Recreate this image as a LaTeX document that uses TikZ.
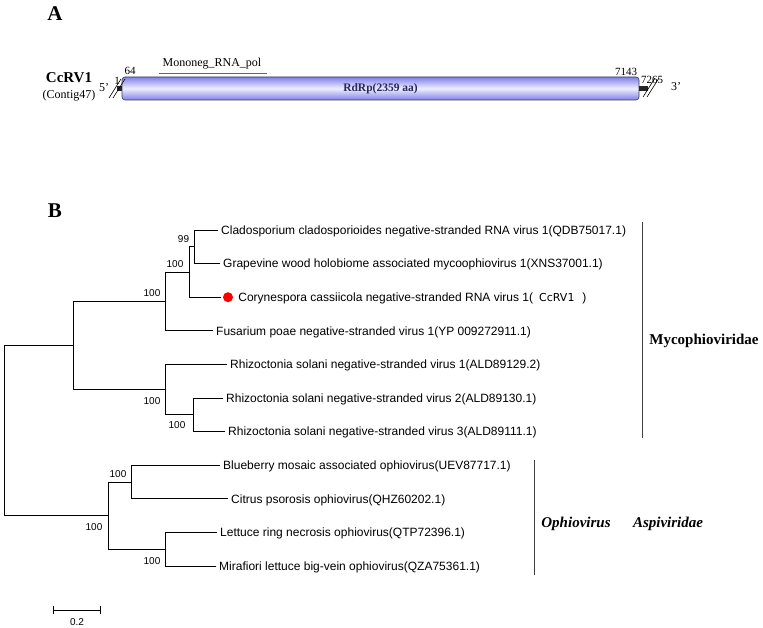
\documentclass[tikz,border=0pt]{standalone}
\usepackage{fontspec}
\setmainfont{Liberation Serif}
\newfontfamily\arial{Liberation Sans}
\newfontfamily\dejavu{DejaVu Sans}
\begin{document}
\begin{tikzpicture}[x=1pt,y=-1pt,
  leaf/.style={anchor=west,inner xsep=3pt,inner ysep=0pt,text height=8.6pt,text depth=0pt,font=\arial\fontsize{12}{14}\selectfont},
  boot/.style={inner sep=0pt,font=\arial\fontsize{10}{12}\selectfont},
  num/.style={inner sep=0pt,font=\fontsize{11}{13}\selectfont},
  br/.style={line width=0.8pt,line cap=rect},
  clade/.style={inner sep=0pt,font=\fontsize{15}{17}\selectfont\bfseries},
  panel/.style={inner sep=0pt,font=\fontsize{21}{24}\selectfont\bfseries}]
\useasboundingbox (0,0) rectangle (763,628);
\definecolor{barblue}{RGB}{128,128,232}
\definecolor{barmid}{RGB}{238,238,255}
% ---------- Panel A ----------
\node[panel] (pA) at (55,14) {A};
\node[inner sep=0pt,font=\fontsize{15}{17}\selectfont\bfseries] (name) at (69,78) {CcRV1};
\node[inner sep=0pt,font=\fontsize{12}{14}\selectfont] (contig) at (69,96) {(Contig47)};
\node[num,font=\fontsize{12}{14}\selectfont] (five) at (104,88) {5'};
\node[num,font=\fontsize{12}{14}\selectfont] (three) at (676,87) {3'};
\node[rounded corners=3pt,draw={rgb,255:red,60;green,60;blue,80},line width=0.6pt,
  top color=barblue,bottom color=barblue,middle color=barmid,
  minimum width=517pt,minimum height=23pt,inner sep=0pt,
  font=\fontsize{11.5}{13}\selectfont\bfseries,text={rgb,255:red,40;green,40;blue,90}] (bar) at (380.5,88.5) {RdRp(2359 aa)};
\fill[black!85] (117,86) rectangle (bar.west |- 0,91);
\fill[black!85] (bar.east |- 0,86) rectangle (648,91);
\draw[line width=0.6pt] (109,98) -- (121,79);
\draw[line width=0.6pt] (113,98) -- (125,79);
\draw[line width=0.6pt] (643,97) -- (655,78);
\draw[line width=0.6pt] (647,97) -- (659,78);
\node[num] (p1) at (117,81) {1};
\node[num] (p64) at (130,71) {64};
\node[num] (p7143) at (626,72) {7143};
\node[num] (p7265) at (652,80) {7265};
\node[inner sep=0pt,font=\fontsize{12}{14}\selectfont] (dom) at (212,64) {Mononeg\_RNA\_pol};
\coordinate (d1) at (159,73);
\coordinate (d2) at (267,73);
\draw[black!60,line width=0.7pt] (d1) -- (d2);
% ---------- Panel B ----------
\node[panel] (pB) at (55,211) {B};
\coordinate (root) at (4,430.5);
\coordinate (n73) at (73,345.5);
\coordinate (n108) at (108,515.6);
\coordinate (n165a) at (165,301.4);
\coordinate (n165b) at (165,389.6);
\coordinate (n189) at (189,272);
\coordinate (n194) at (194,246.8);
\coordinate (n193) at (193,414.8);
\coordinate (n131) at (131,482);
\coordinate (n165c) at (165,549.2);
\node[leaf] (L1) at (218,230) {Cladosporium cladosporioides negative-stranded RNA virus 1(QDB75017.1)};
\node[leaf] (L2) at (220,263.6) {Grapevine wood holobiome associated mycoophiovirus 1(XNS37001.1)};
\coordinate (c3) at (221,297.2);
\node[circle,fill=red,minimum size=10pt,inner sep=0pt] (dot) at (228,297.2) {};
\node[leaf,inner xsep=5pt] (L3) at (dot.east) {Corynespora cassiicola negative-stranded RNA virus 1(\hspace{6pt}{\dejavu\fontsize{11}{13}\selectfont CcRV1}\hspace{8pt})};
\node[leaf] (L4) at (213,330.8) {Fusarium poae negative-stranded virus 1(YP 009272911.1)};
\node[leaf] (L5) at (227,364.4) {Rhizoctonia solani negative-stranded virus 1(ALD89129.2)};
\node[leaf] (L6) at (223,398) {Rhizoctonia solani negative-stranded virus 2(ALD89130.1)};
\node[leaf] (L7) at (225,431.6) {Rhizoctonia solani negative-stranded virus 3(ALD89111.1)};
\node[leaf] (L8) at (220,465.2) {Blueberry mosaic associated ophiovirus(UEV87717.1)};
\node[leaf] (L9) at (228,498.8) {Citrus psorosis ophiovirus(QHZ60202.1)};
\node[leaf] (L10) at (217,532.4) {Lettuce ring necrosis ophiovirus(QTP72396.1)};
\node[leaf] (L11) at (216,566) {Mirafiori lettuce big-vein ophiovirus(QZA75361.1)};
\draw[br] (root) |- (n73);
\draw[br] (root) |- (n108);
\draw[br] (n73) |- (n165a);
\draw[br] (n73) |- (n165b);
\draw[br] (n165a) |- (n189);
\draw[br] (n165a) |- (L4.west);
\draw[br] (n189) |- (n194);
\draw[br] (n189) |- (c3);
\draw[br] (n194) |- (L1.west);
\draw[br] (n194) |- (L2.west);
\draw[br] (n165b) |- (L5.west);
\draw[br] (n165b) |- (n193);
\draw[br] (n193) |- (L6.west);
\draw[br] (n193) |- (L7.west);
\draw[br] (n108) |- (n131);
\draw[br] (n108) |- (n165c);
\draw[br] (n131) |- (L8.west);
\draw[br] (n131) |- (L9.west);
\draw[br] (n165c) |- (L10.west);
\draw[br] (n165c) |- (L11.west);
% bootstrap values
\node[boot] (b194) at (183.5,239) {99};
\node[boot] (b189) at (175,264) {100};
\node[boot] (b165a) at (152,293) {100};
\node[boot] (b165b) at (152,401) {100};
\node[boot] (b193) at (177,425) {100};
\node[boot] (b131) at (118,474) {100};
\node[boot] (b108) at (94,527) {100};
\node[boot] (b165c) at (152,561) {100};
% clade bars
\coordinate (m1) at (642,222);
\coordinate (m2) at (642,438);
\draw[line width=0.8pt,black!75] (m1) -- (m2);
\node[clade] (myco) at (704,341) {Mycophioviridae};
\coordinate (o1) at (534,460);
\coordinate (o2) at (534,575);
\draw[line width=0.8pt,black!75] (o1) -- (o2);
\node[clade,font=\fontsize{15}{17}\selectfont\bfseries\itshape] (ophio) at (576,524) {Ophiovirus};
\node[clade,font=\fontsize{15}{17}\selectfont\bfseries\itshape] (aspi) at (668,524) {Aspiviridae};
% scale bar
\coordinate (s1) at (53,610);
\coordinate (s2) at (100,610);
\draw[line width=0.8pt] (s1) -- (s2);
\draw[line width=0.8pt] ([yshift=-4pt]s1) -- ([yshift=4pt]s1);
\draw[line width=0.8pt] ([yshift=-4pt]s2) -- ([yshift=4pt]s2);
\node[boot] (sl) at (77,622) {0.2};
\end{tikzpicture}
\end{document}
